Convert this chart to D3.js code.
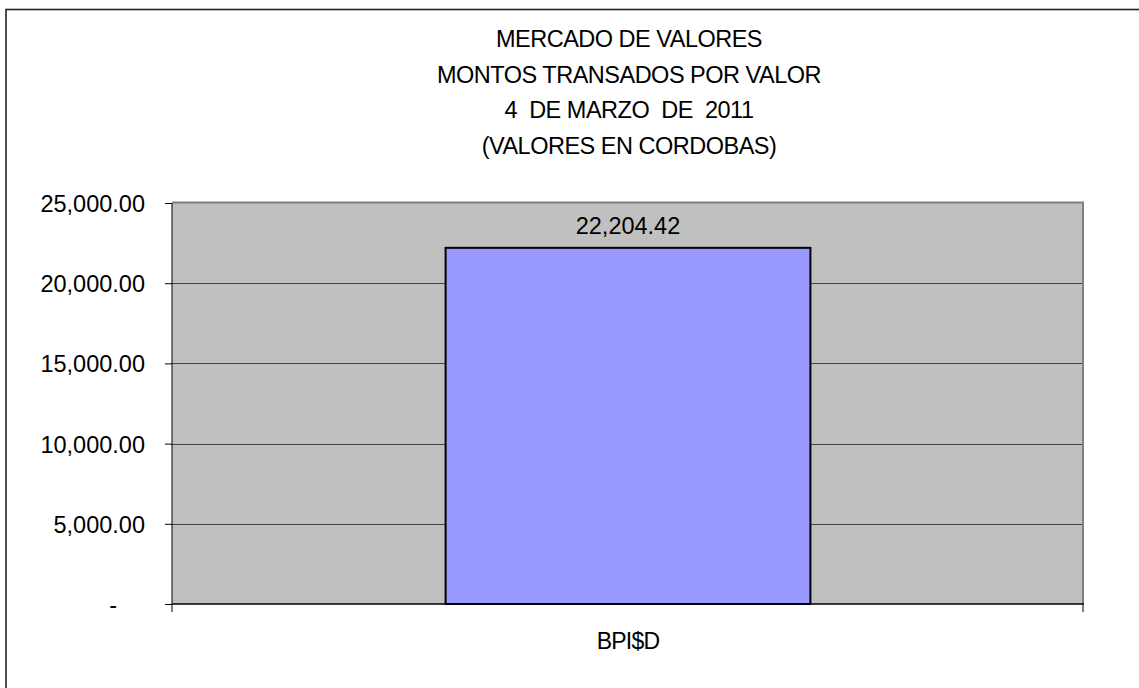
<html lang="es">
<head>
    <meta charset="utf-8">
    <title>Mercado de Valores</title>
    <style>
        body {
            margin: 0;
            background: white;
        }

        svg {
            display: block;
        }

        text {
            font-family: "Liberation Sans", Arial, sans-serif;
            fill: black;
        }
    </style>
</head>
<body>
    <script src="https://d3js.org/d3.v7.min.js"></script>
    <div id="chart"></div>
    <script type="text/javascript">
        // Data
        var categories = ["BPI$D"];
        var values = [22204.42];
        var yTicks = [0, 5000, 10000, 15000, 20000, 25000];
        var titleLines = [
            "MERCADO DE VALORES",
            "MONTOS TRANSADOS POR VALOR",
            "4  DE MARZO  DE  2011",
            "(VALORES EN CORDOBAS)"
        ];

        // drawing vars
        var width = 1139;
        var height = 688;
        var plot = { left: 172, top: 203, right: 1084, bottom: 604 };

        var svg = d3.select("#chart").append("svg")
            .attr("width", width)
            .attr("height", height);

        // outer chart border (runs off the right and bottom edges)
        svg.append("rect")
            .attr("x", 6)
            .attr("y", 9.5)
            .attr("width", 1300)
            .attr("height", 900)
            .style("fill", "white")
            .style("stroke", "#222")
            .style("stroke-width", 1.6);

        var xScale = d3.scaleBand()
            .domain(categories)
            .range([plot.left, plot.right])
            .paddingInner(0.6)
            .paddingOuter(0.3);

        var yScale = d3.scaleLinear()
            .domain([0, 25000])
            .range([plot.bottom, plot.top]);

        // plot area background
        svg.append("rect")
            .attr("x", plot.left)
            .attr("y", plot.top)
            .attr("width", plot.right - plot.left)
            .attr("height", plot.bottom - plot.top)
            .style("fill", "#C0C0C0");

        // gridlines
        svg.selectAll(".grid")
            .data(yTicks.filter(function(d) { return d > 0 && d < 25000; }))
            .enter()
            .append("line")
            .attr("class", "grid")
            .attr("x1", plot.left)
            .attr("x2", plot.right)
            .attr("y1", function(d) { return Math.round(yScale(d)) + 0.5; })
            .attr("y2", function(d) { return Math.round(yScale(d)) + 0.5; })
            .style("stroke", "#444")
            .style("stroke-width", 1);

        // top and right plot border
        svg.append("path")
            .attr("d", "M" + plot.left + "," + (plot.top - 0.5) + "H" + (plot.right - 1) + "V" + plot.bottom)
            .style("fill", "none")
            .style("stroke", "#808080")
            .style("stroke-width", 2);

        // bars
        svg.selectAll(".bar")
            .data(values)
            .enter()
            .append("rect")
            .attr("class", "bar")
            .attr("x", function(d, i) { return xScale(categories[i]); })
            .attr("y", function(d) { return yScale(d); })
            .attr("width", xScale.bandwidth())
            .attr("height", function(d) { return yScale(0) - yScale(d); })
            .style("fill", "#9999FF")
            .style("stroke", "black")
            .style("stroke-width", 2);

        // value labels
        svg.selectAll(".valLabel")
            .data(values)
            .enter()
            .append("text")
            .attr("class", "valLabel")
            .attr("x", function(d, i) { return xScale(categories[i]) + xScale.bandwidth() / 2; })
            .attr("y", function(d) { return yScale(d) - 14; })
            .attr("text-anchor", "middle")
            .attr("font-size", "23.5px")
            .text(function(d) { return d3.format(",.2f")(d); });

        // y axis
        var yAxis = d3.axisLeft(yScale)
            .tickValues(yTicks)
            .tickSize(7)
            .tickPadding(20)
            .tickFormat(function(d) { return d === 0 ? "-" : d3.format(",.2f")(d); });

        var gy = svg.append("g")
            .attr("transform", "translate(" + plot.left + ",0)")
            .call(yAxis);
        gy.select(".domain").remove();
        gy.append("line")
            .attr("x1", 0).attr("x2", 0)
            .attr("y1", plot.top).attr("y2", plot.bottom)
            .style("stroke", "black");
        gy.selectAll(".tick line").style("stroke", "black");
        gy.selectAll(".tick text")
            .attr("font-size", "23.5px")
            .attr("font-family", "Liberation Sans, Arial, sans-serif")
            .attr("fill", "black")
            .attr("dy", "0.36em")
            .attr("dx", function(d) { return d === 0 ? -28 : 0; });

        // x axis
        var xAxis = d3.axisBottom(xScale).tickSize(0).tickPadding(29);
        var gx = svg.append("g")
            .attr("transform", "translate(0," + plot.bottom + ")")
            .call(xAxis);
        gx.select(".domain").remove();
        gx.append("line")
            .attr("x1", plot.left).attr("x2", plot.right)
            .attr("y1", 0).attr("y2", 0)
            .style("stroke", "black")
            .style("stroke-width", 1.5);
        gx.selectAll(".edgeTick")
            .data([plot.left, plot.right - 1])
            .enter()
            .append("line")
            .attr("class", "edgeTick")
            .attr("x1", function(d) { return d; })
            .attr("x2", function(d) { return d; })
            .attr("y1", 0)
            .attr("y2", 8)
            .style("stroke", "black");
        gx.selectAll(".tick text")
            .attr("font-size", "23px")
            .attr("letter-spacing", "-0.8px")
            .attr("font-family", "Liberation Sans, Arial, sans-serif")
            .attr("fill", "black");

        // title
        svg.selectAll(".title")
            .data(titleLines)
            .enter()
            .append("text")
            .attr("class", "title")
            .attr("x", (plot.left + plot.right) / 2 + 1)
            .attr("y", function(d, i) { return 47 + i * 35.7; })
            .attr("text-anchor", "middle")
            .attr("font-size", "23.5px")
            .attr("letter-spacing", "-0.5px")
            .style("white-space", "pre")
            .text(function(d) { return d; });
    </script>
</body>
</html>
